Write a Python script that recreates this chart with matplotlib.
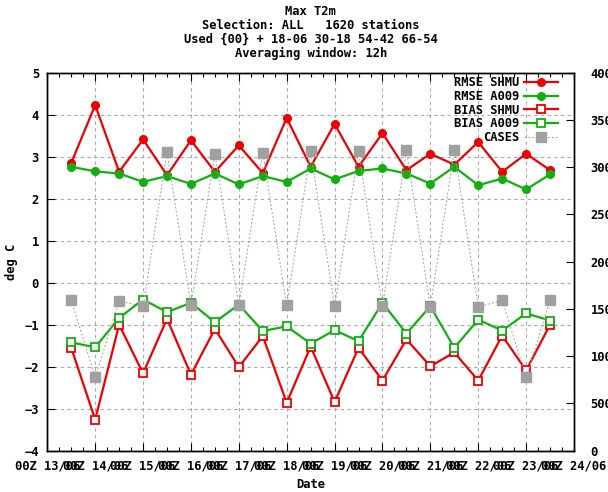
import numpy as np
import pandas as pd
import matplotlib
matplotlib.use("Agg")
import matplotlib.pyplot as plt
import matplotlib.dates as mdates

plt.rcParams["font.family"] = ["DejaVu Sans Mono"]
plt.rcParams["font.weight"] = "bold"
plt.rcParams["axes.titleweight"] = "bold"
plt.rcParams["axes.labelweight"] = "bold"
plt.rcParams["font.size"] = 8.7

# Verification times: every 12 h from 13/06 12Z to 23/06 12Z
times = pd.date_range("2014-06-13 12:00", periods=21, freq="12h")

rmse_shmu = [2.85, 4.23, 2.64, 3.41, 2.56, 3.39, 2.64, 3.27, 2.61, 3.92, 2.76,
             3.78, 2.76, 3.56, 2.68, 3.07, 2.81, 3.35, 2.64, 3.07, 2.68]
rmse_a009 = [2.76, 2.65, 2.60, 2.40, 2.54, 2.35, 2.60, 2.34, 2.54, 2.40, 2.72,
             2.46, 2.66, 2.72, 2.60, 2.36, 2.76, 2.32, 2.48, 2.22, 2.58]
bias_shmu = [-1.55, -3.26, -1.00, -2.16, -0.86, -2.19, -1.10, -2.01, -1.27, -2.86, -1.52,
             -2.84, -1.55, -2.33, -1.35, -1.99, -1.66, -2.33, -1.26, -2.09, -1.00]
bias_a009 = [-1.42, -1.54, -0.84, -0.40, -0.70, -0.48, -0.94, -0.52, -1.15, -1.04, -1.45,
             -1.13, -1.39, -0.48, -1.21, -0.56, -1.55, -0.88, -1.14, -0.73, -0.90]
cases = [1593, 776, 1582, 1529, 3161, 1537, 3144, 1537, 3155, 1537, 3168,
         1529, 3168, 1529, 3179, 1519, 3179, 1519, 1593, 776, 1593]

labels = ["RMSE SHMU", "RMSE A009", "BIAS SHMU", "BIAS A009", "CASES"]
title_lines = ["Max T2m",
               "Selection: ALL   1620 stations",
               "Used {00} + 18-06 30-18 54-42 66-54",
               "Averaging window: 12h"]

RED = "#ee0000"
GREEN = "#10b010"
GRAY = "#a0a0a0"
GRID = "#a8a8a8"
FS = 8.7

W, H = 608, 492
fig = plt.figure(figsize=(W / 100, H / 100), dpi=100)
x0, x1, y_top, y_bot = 47.3, 574.0, 72.7, 450.7
ax = fig.add_axes([x0 / W, 1 - y_bot / H, (x1 - x0) / W, (y_bot - y_top) / H])
ax2 = ax.twinx()

h1, = ax.plot(times, rmse_shmu, color=RED, lw=1.6, marker="o", ms=5.5,
              mfc=RED, mec=RED, label=labels[0])
h2, = ax.plot(times, rmse_a009, color=GREEN, lw=1.6, marker="o", ms=5.5,
              mfc=GREEN, mec=GREEN, label=labels[1])
h3, = ax.plot(times, bias_shmu, color=RED, lw=1.6, marker="s", ms=5.5,
              mfc="white", mec=RED, mew=1.3, label=labels[2])
h4, = ax.plot(times, bias_a009, color=GREEN, lw=1.6, marker="s", ms=5.5,
              mfc="white", mec=GREEN, mew=1.3, label=labels[3])
h5, = ax2.plot(times, cases, color=GRAY, lw=0.7, ls=(0, (2, 2)), marker="s",
               ms=6.5, mfc=GRAY, mec=GRAY, label=labels[4])

# Axis ranges and ticks
ax.set_xlim(pd.Timestamp("2014-06-13 00:00"), pd.Timestamp("2014-06-24 00:00"))
ax.set_ylim(-4, 5)
ax.set_yticks(np.arange(-4, 6, 1))
ax2.set_ylim(0, 4000)
ax2.set_yticks(np.arange(0, 4001, 500))

ax.xaxis.set_major_locator(mdates.DayLocator())
ax.xaxis.set_minor_locator(mdates.HourLocator(byhour=[6, 12, 18]))
ax.xaxis.set_major_formatter(mdates.DateFormatter("%HZ %d/%m"))

ax.tick_params(axis="x", which="major", direction="in", length=6, width=0.8,
               top=True, pad=6, labelsize=FS)
ax.tick_params(axis="x", which="minor", direction="in", length=3, width=0.8, top=True)
ax.tick_params(axis="y", which="major", direction="in", length=6, width=0.8,
               right=False, pad=6, labelsize=FS)
ax2.tick_params(axis="y", direction="in", length=6, width=0.8, pad=12, labelsize=FS)

for t in ax.get_xticklabels() + ax.get_yticklabels() + ax2.get_yticklabels():
    t.set_fontweight("bold")
for t in ax2.get_yticklabels():
    t.set_horizontalalignment("left")

ax.grid(True, which="major", color=GRID, lw=0.8, ls=(0, (3, 3)))

for a in (ax, ax2):
    for s in a.spines.values():
        s.set_linewidth(1.0)
        s.set_color("black")

ax.set_xlabel("Date", fontsize=FS, fontweight="bold", labelpad=4)
ax.set_ylabel("deg C", fontsize=FS, fontweight="bold")
ax.yaxis.set_label_coords(-0.056, 0.5)

ax.set_title("\n".join(title_lines), fontsize=FS, fontweight="bold",
             linespacing=1.12, pad=11)

leg = ax2.legend(handles=[h1, h2, h3, h4, h5], labels=labels, loc="upper right",
                 bbox_to_anchor=(0.97, 0.99), frameon=False, markerfirst=False,
                 handlelength=2.8, handletextpad=0.4, labelspacing=0.05,
                 borderpad=0, borderaxespad=0,
                 prop={"size": FS, "weight": "bold"})

fig.savefig("out.png", dpi=100)
